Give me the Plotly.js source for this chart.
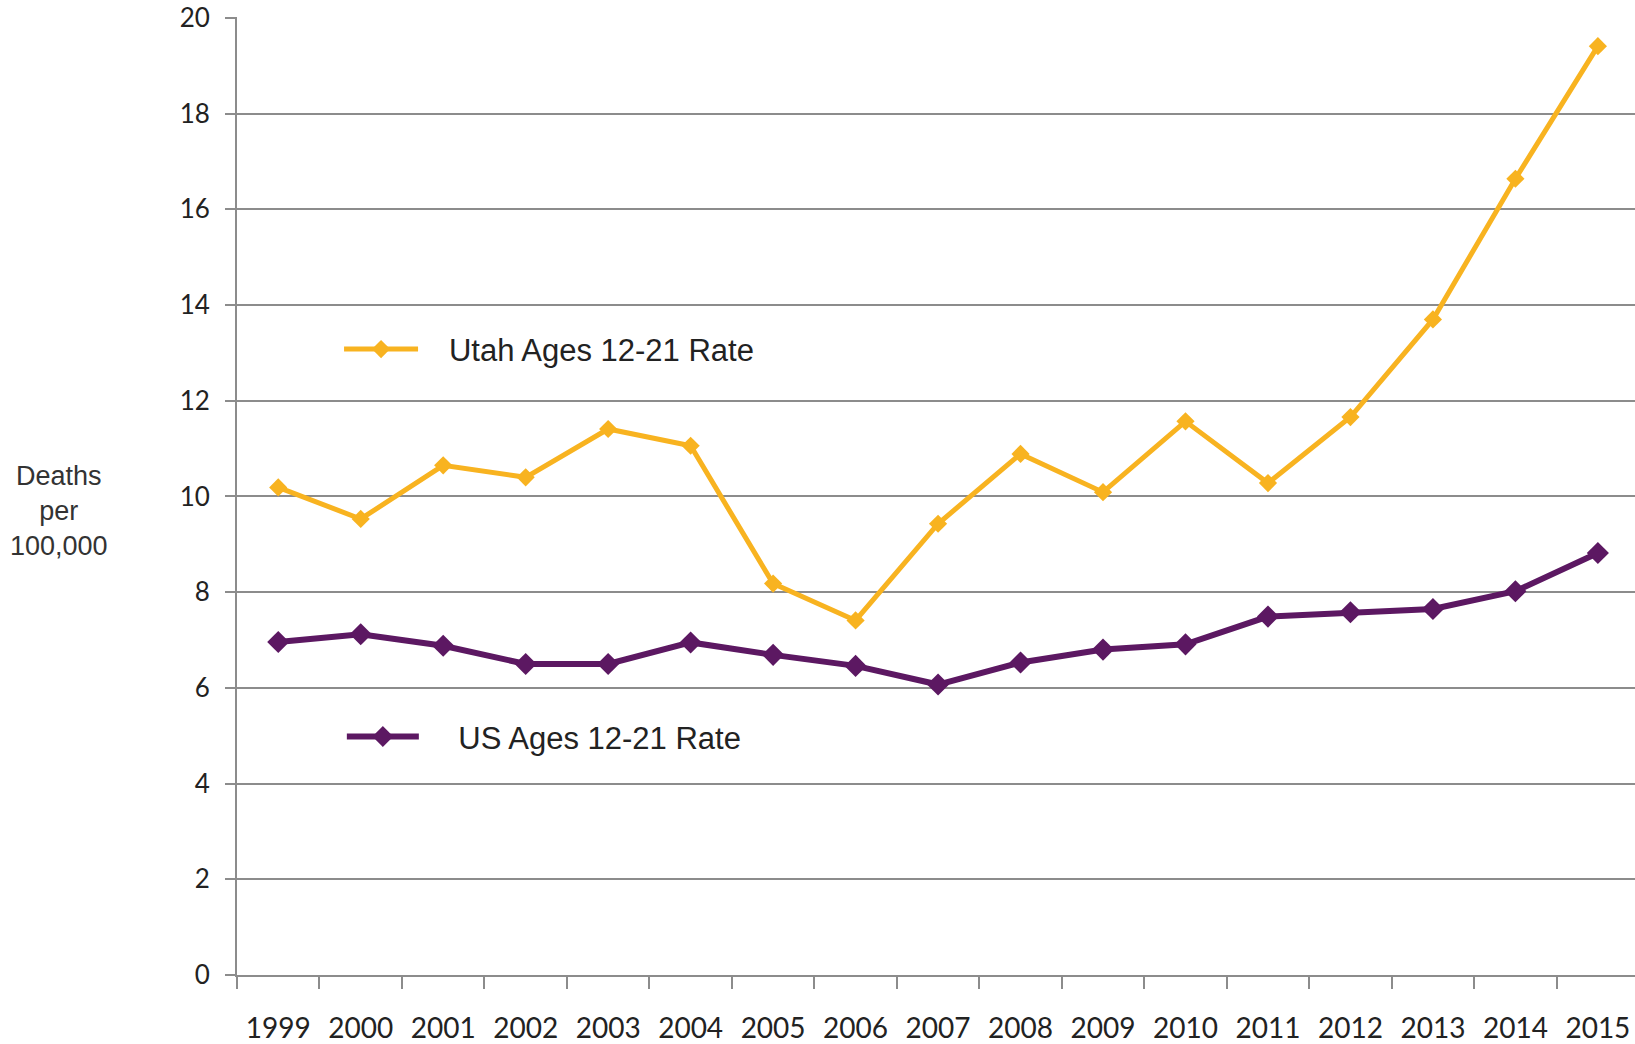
<!DOCTYPE html>
<html>
<head>
<meta charset="utf-8">
<script src="https://cdn.plot.ly/plotly-3.0.1.min.js"></script>
<style>html,body{margin:0;padding:0;background:#fff;}#chart{width:1635px;height:1044px;}</style>
</head>
<body>
<div id="chart"></div>
<script>
const years = ["1999","2000","2001","2002","2003","2004","2005","2006","2007","2008","2009","2010","2011","2012","2013","2014","2015"];
const utahRate = [10.19, 9.53, 10.65, 10.40, 11.41, 11.06, 8.18, 7.41, 9.43, 10.89, 10.09, 11.57, 10.28, 11.66, 13.70, 16.64, 19.41];
const usRate = [6.96, 7.12, 6.88, 6.50, 6.50, 6.95, 6.69, 6.46, 6.07, 6.53, 6.80, 6.91, 7.49, 7.58, 7.65, 8.02, 8.82];
const yTicks = [0, 2, 4, 6, 8, 10, 12, 14, 16, 18, 20];
const utahName = "\u00a0\u00a0\u00a0Utah Ages 12-21 Rate";
const usName = "\u00a0\u00a0\u00a0\u00a0US Ages 12-21 Rate";
const yLabel = "Deaths<br>per<br>100,000";

const utahColor = "#F8B320";
const usColor = "#5C1862";

const traces = [
  {
    x: years, y: utahRate, name: utahName, type: "scatter", mode: "lines+markers",
    line: {color: utahColor, width: 5},
    marker: {symbol: "diamond", size: 14, color: utahColor},
    legend: "legend"
  },
  {
    x: years, y: usRate, name: usName, type: "scatter", mode: "lines+markers",
    line: {color: usColor, width: 6},
    marker: {symbol: "diamond", size: 17, color: usColor},
    legend: "legend2"
  }
];

const tickFont = {family: "Lato, 'Open Sans', sans-serif", size: 26, color: "#222"};
const xTickFont = {family: "Lato, 'Open Sans', sans-serif", size: 28, color: "#222"};
const legFont = {family: "'Liberation Sans', Arial, sans-serif", size: 31, color: "#222"};

const layout = {
  width: 1635, height: 1044,
  margin: {l: 237, r: 0, t: 17, b: 69, pad: 0},
  paper_bgcolor: "#fff", plot_bgcolor: "#fff",
  showlegend: true,
  xaxis: {
    type: "category",
    range: [-0.5, 16.45],
    showgrid: false,
    zeroline: false,
    showline: true, linecolor: "#8c8c8c", linewidth: 2,
    ticks: "outside", ticklen: 12, tickwidth: 2, tickcolor: "#8c8c8c",
    tickson: "boundaries",
    ticklabelstandoff: 27,
    tickfont: xTickFont,
    fixedrange: true
  },
  yaxis: {
    range: [0, 20.02],
    tickvals: yTicks,
    ticktext: yTicks.map(String),
    showgrid: true, gridcolor: "#8c8c8c", gridwidth: 2,
    zeroline: false,
    showline: true, linecolor: "#8c8c8c", linewidth: 2,
    ticks: "outside", ticklen: 10, tickwidth: 2, tickcolor: "#8c8c8c",
    ticklabelstandoff: 10,
    tickfont: tickFont,
    fixedrange: true
  },
  legend: {
    x: 0.073, y: 0.653, xanchor: "left", yanchor: "middle",
    bgcolor: "rgba(0,0,0,0)", borderwidth: 0,
    font: legFont, itemwidth: 74
  },
  legend2: {
    x: 0.075, y: 0.2486, xanchor: "left", yanchor: "middle",
    bgcolor: "rgba(0,0,0,0)", borderwidth: 0,
    font: legFont, itemwidth: 72
  },
  annotations: [
    {
      text: yLabel, xref: "paper", yref: "paper",
      x: -0.127, y: 0.484, xanchor: "center", yanchor: "middle",
      showarrow: false, align: "center",
      font: {family: "'Liberation Sans', Arial, sans-serif", size: 27, color: "#333"}
    }
  ]
};

Plotly.newPlot("chart", traces, layout, {displayModeBar: false, staticPlot: true});
</script>
</body>
</html>
